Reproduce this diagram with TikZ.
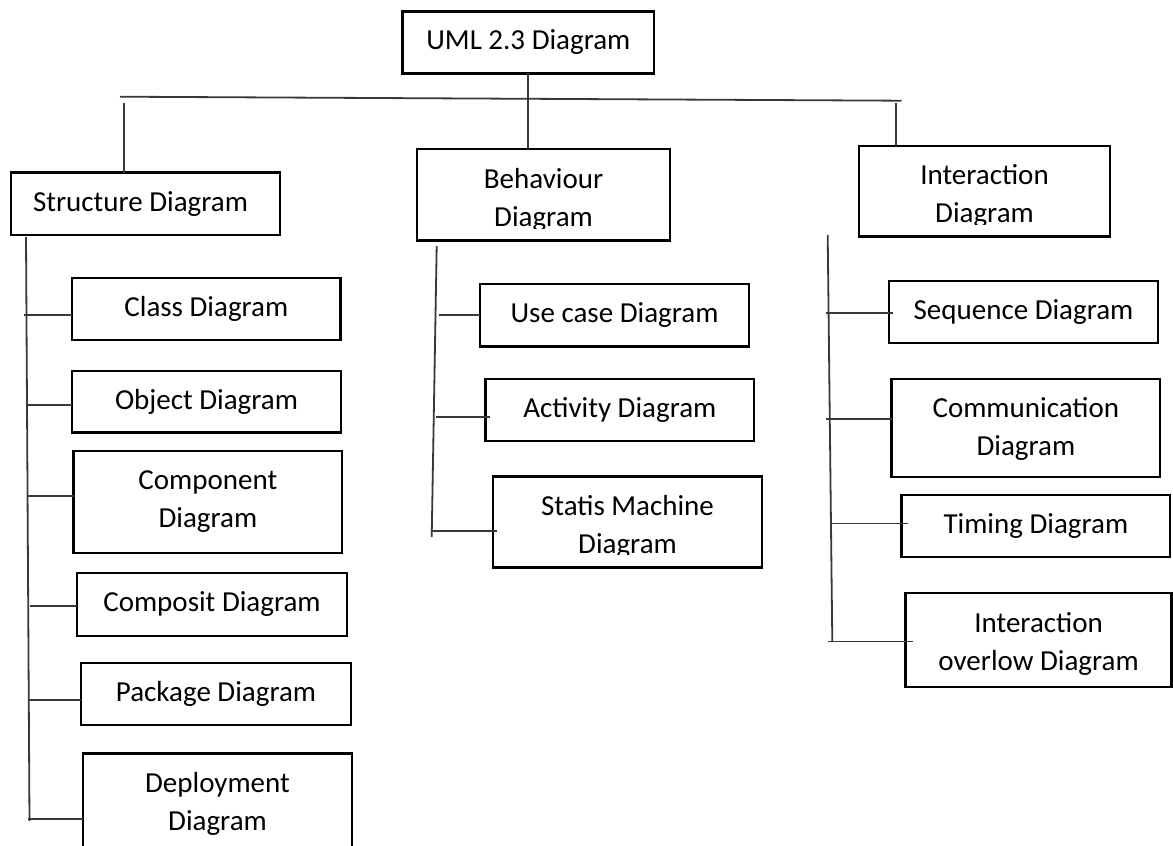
\documentclass[tikz,border=0pt]{standalone}
\usepackage{fontspec}
\setmainfont{Carlito}
\usetikzlibrary{fit}
\begin{document}
\begin{tikzpicture}[x=1pt,y=-1pt,
  frame/.style={draw=black, line width=2.6pt, inner sep=0pt, outer sep=0pt},
  lbl/.style={font=\fontsize{29}{38}\selectfont, align=center, inner sep=0pt},
  wire/.style={draw=black!78, line width=1.8pt}]
\useasboundingbox (0,0) rectangle (1173,846);

% ---- boxes ----
\node[frame, fit={(402.7,11.7) (654,73.3)}] (uml) {};
\node[frame, fit={(11,172.7) (280,235)}] (str) {};
\node[frame, fit={(417,149) (670,240.7)}] (beh) {};
\node[frame, fit={(859,146) (1110,236.7)}] (int) {};

\node[frame, fit={(72,278) (340.7,340)}] (cls) {};
\node[frame, fit={(72,371) (341,432.7)}] (obj) {};
\node[frame, fit={(73.7,451) (342,553)}] (cmp) {};
\node[frame, fit={(77,573) (347,636)}] (cps) {};
\node[frame, fit={(81,663) (351,725)}] (pkg) {};
\node[frame, fit={(83,753.3) (352,858)}] (dep) {};

\node[frame, fit={(480,284) (749,346.7)}] (use) {};
\node[frame, fit={(485.7,379) (754,441)}] (act) {};
\node[frame, fit={(493,476.7) (762,567.7)}] (stm) {};

\node[frame, fit={(889,281) (1158,343)}] (seq) {};
\node[frame, fit={(891.7,379) (1160,477)}] (com) {};
\node[frame, fit={(901.7,495) (1170,557)}] (tim) {};
\node[frame, fit={(905.7,593) (1171.5,687)}] (ovl) {};

% ---- labels ----
\node[lbl] (umlT) at (uml.center) {UML 2.3 Diagram};
\node[lbl] (strT) at ([xshift=-5pt]str.center) {Structure Diagram};
\begin{scope}
  \clip (beh.north west) rectangle ([yshift=12.5pt]beh.south east);
  \node[lbl] (behT) at ([yshift=-5pt]beh.center) {Behaviour\\Diagram};
\end{scope}
\begin{scope}
  \clip (int.north west) rectangle ([yshift=12.5pt]int.south east);
  \node[lbl] (intT) at ([yshift=-5pt]int.center) {Interaction\\Diagram};
\end{scope}

\node[lbl] (clsT) at (cls.center) {Class Diagram};
\node[lbl] (objT) at (obj.center) {Object Diagram};
\node[lbl] (cmpT) at (cmp.center) {Component\\Diagram};
\node[lbl] (cpsT) at (cps.center) {Composit Diagram};
\node[lbl] (pkgT) at (pkg.center) {Package Diagram};
\node[lbl] (depT) at (217.5,803.8) {Deployment\\Diagram};

\node[lbl] (useT) at (use.center) {Use case Diagram};
\node[lbl] (actT) at (act.center) {Activity Diagram};
\begin{scope}
  \clip (stm.north west) rectangle ([yshift=13pt]stm.south east);
  \node[lbl] (stmT) at ([yshift=-5pt]stm.center) {Statis Machine\\Diagram};
\end{scope}

\node[lbl] (seqT) at (seq.center) {Sequence Diagram};
\node[lbl] (comT) at ([yshift=-1pt]com.center) {Communication\\Diagram};
\node[lbl] (timT) at (tim.center) {Timing Diagram};
\node[lbl] (ovlT) at ([yshift=-4pt]ovl.center) {Interaction\\overlow Diagram};

% ---- top level connectors ----
\coordinate (busL) at (120,96.7);
\coordinate (busR) at (901.7,100.7);
\draw[wire] (busL) -- (busR);
\draw[wire] (uml.south) -- (uml.south |- beh.north);
\coordinate (sDrop) at (124,103);
\draw[wire] (sDrop) -- (sDrop |- str.north);
\coordinate (iDrop) at (896,103);
\draw[wire] (iDrop) -- (iDrop |- int.north);

% ---- structure branch ----
\coordinate (sTop) at (26,237);
\coordinate (sBot) at (29.5,821);
\draw[wire] (sTop) -- (sBot);
\coordinate (tCls) at (24,315);
\coordinate (tObj) at (26,405);
\coordinate (tCmp) at (27,496);
\coordinate (tCps) at (30,606);
\coordinate (tPkg) at (28,700);
\coordinate (tDep) at (28,819);
\draw[wire] (tCls) -- (tCls -| cls.west);
\draw[wire] (tObj) -- (tObj -| obj.west);
\draw[wire] (tCmp) -- (tCmp -| cmp.west);
\draw[wire] (tCps) -- (tCps -| cps.west);
\draw[wire] (tPkg) -- (tPkg -| pkg.west);
\draw[wire] (tDep) -- (tDep -| dep.west);

% ---- behaviour branch ----
\coordinate (bTop) at (436.7,246);
\coordinate (bBot) at (431.7,537);
\draw[wire] (bTop) -- (bBot);
\coordinate (tUse) at (438.5,315);
\coordinate (tAct) at (436,416.7);
\coordinate (tStm) at (430.7,531);
\draw[wire] (tUse) -- (tUse -| use.west);
\draw[wire, shorten >=-4pt] (tAct) -- (tAct -| act.west);
\draw[wire, shorten >=-4pt] (tStm) -- (tStm -| stm.west);

% ---- interaction branch ----
\coordinate (iTop) at (827.7,235);
\coordinate (iBot) at (832.3,641);
\draw[wire] (iTop) -- (iBot);
\coordinate (tSeq) at (826,313);
\coordinate (tCom) at (826,419);
\coordinate (tTim) at (832,523.5);
\coordinate (tOvl) at (828,641.5);
\draw[wire, shorten >=-4pt] (tSeq) -- (tSeq -| seq.west);
\draw[wire] (tCom) -- (tCom -| com.west);
\draw[wire, shorten >=-6pt] (tTim) -- (tTim -| tim.west);
\draw[wire, shorten >=-7pt] (tOvl) -- (tOvl -| ovl.west);
\end{tikzpicture}
\end{document}
